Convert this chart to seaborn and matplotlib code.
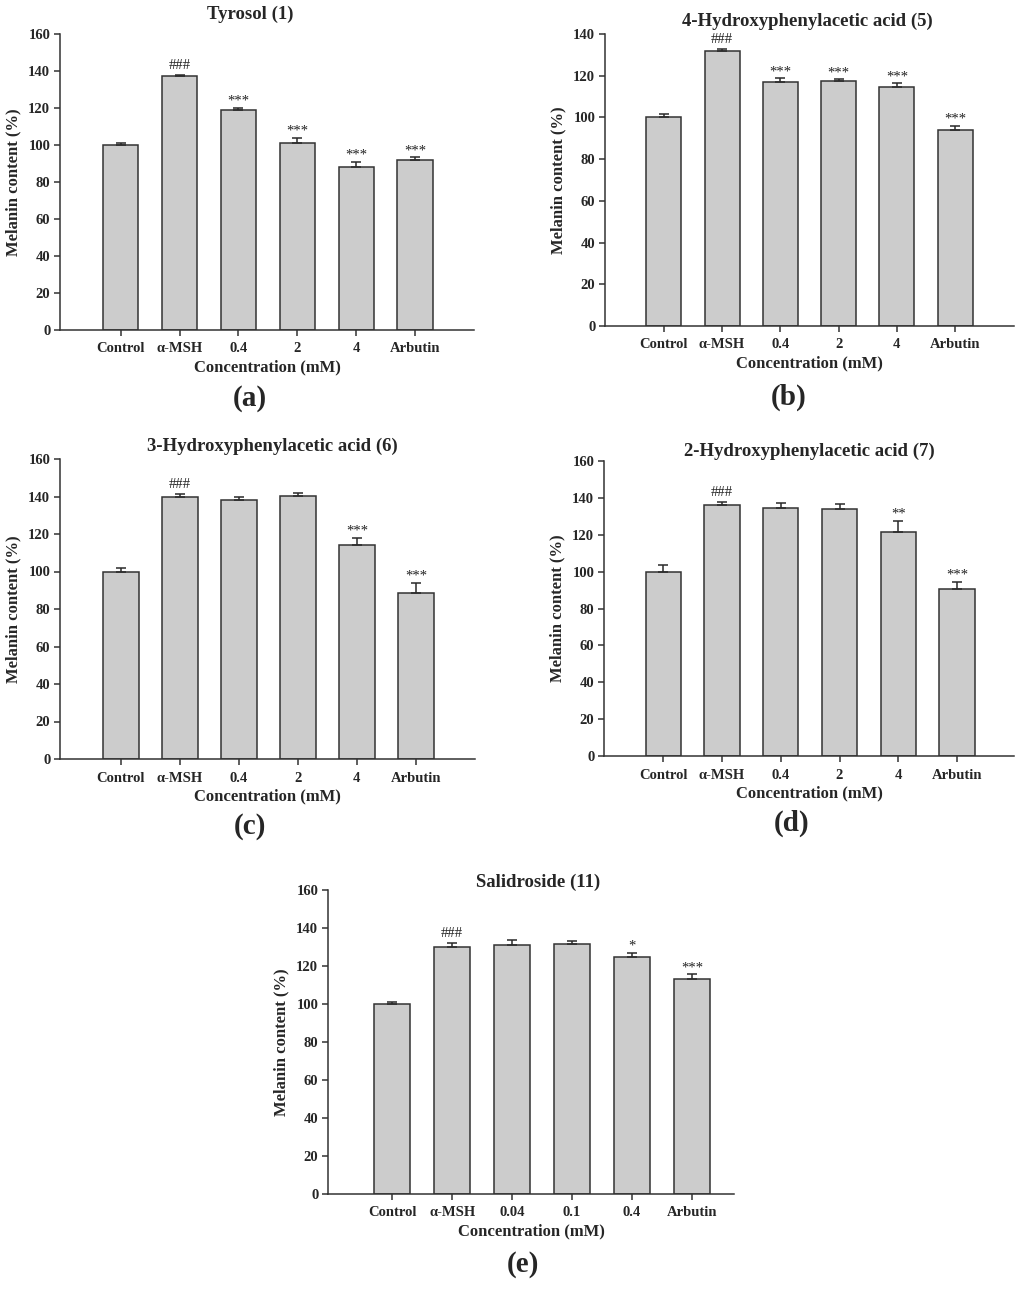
import matplotlib
matplotlib.use('Agg')
import matplotlib.pyplot as plt
import seaborn as sns
import numpy as np
import pandas as pd

sns.set_style('ticks')
plt.rcParams['font.family'] = ['Liberation Serif', 'DejaVu Serif']
plt.rcParams['font.weight'] = 'bold'

# -------------------------------------------------------------------
# Data (mean and upper error bar)
# -------------------------------------------------------------------
groups_main = ['Control', 'α-MSH', '0.4', '2', '4', 'Arbutin']
groups_sal = ['Control', 'α-MSH', '0.04', '0.1', '0.4', 'Arbutin']

titles = ['Tyrosol (1)', '4-Hydroxyphenylacetic acid (5)', '3-Hydroxyphenylacetic acid (6)',
          '2-Hydroxyphenylacetic acid (7)', 'Salidroside (11)']
panel_letters = ['(a)', '(b)', '(c)', '(d)', '(e)']

tyrosol_mean = [100.0, 137.1, 118.7, 100.9, 88.1, 91.9]
tyrosol_err = [1.3, 0.9, 1.5, 3.1, 2.9, 1.4]
tyrosol_sig = ['', '###', '***', '***', '***', '***']

hpa4_mean = [100.2, 132.0, 116.8, 117.4, 114.7, 93.8]
hpa4_err = [1.6, 0.8, 1.9, 1.0, 1.6, 2.2]
hpa4_sig = ['', '###', '***', '***', '***', '***']

hpa3_mean = [99.9, 139.6, 138.1, 140.4, 114.3, 88.7]
hpa3_err = [1.8, 1.6, 1.5, 1.6, 3.6, 5.3]
hpa3_sig = ['', '###', '', '', '***', '***']

hpa2_mean = [99.8, 136.2, 134.4, 134.0, 121.5, 90.6]
hpa2_err = [4.0, 1.8, 2.8, 2.7, 6.2, 3.8]
hpa2_sig = ['', '###', '', '', '**', '***']

salid_mean = [99.8, 130.0, 131.1, 131.6, 124.8, 113.2]
salid_err = [1.2, 2.1, 2.6, 1.4, 2.2, 2.4]
salid_sig = ['', '###', '', '', '*', '***']

panels = [
    (groups_main, tyrosol_mean, tyrosol_err, tyrosol_sig),
    (groups_main, hpa4_mean, hpa4_err, hpa4_sig),
    (groups_main, hpa3_mean, hpa3_err, hpa3_sig),
    (groups_main, hpa2_mean, hpa2_err, hpa2_sig),
    (groups_sal, salid_mean, salid_err, salid_sig),
]

# layout in pixels: left, right, top, bottom of each axes
W, H = 1024, 1289
boxes = [(60, 474, 34, 330), (605, 1014, 34, 326), (60, 475, 459, 759),
         (604, 1014, 461, 756), (328, 734, 890, 1194)]
xlims = [(-1.03, 6.0), (-1.01, 6.01), (-1.03, 6.0), (-1.01, 5.97), (-1.07, 5.7)]
ymax = [160, 140, 160, 160, 160]
title_pos = [(250, 14), (807, 21), (272, 446), (809, 451), (538, 882)]
letter_pos = [(250, 398), (789, 397), (250, 827), (792, 823), (523, 1265)]

fig = plt.figure(figsize=(W / 100, H / 100), dpi=100)

for k, (cats, mean, err, sig) in enumerate(panels):
    l, r, t, b = boxes[k]
    ax = fig.add_axes([l / W, 1 - b / H, (r - l) / W, (b - t) / H])
    df = pd.DataFrame({'group': cats, 'melanin': mean})
    sns.barplot(data=df, x='group', y='melanin', order=cats, color='#cccccc',
                edgecolor='#333333', linewidth=1.1, width=0.6, errorbar=None,
                saturation=1, ax=ax)
    xs = np.arange(len(cats))
    ax.errorbar(xs, mean, yerr=[np.zeros(len(err)), err], fmt='none',
                ecolor='#2a2a2a', elinewidth=1.1, capsize=3.5, capthick=1.1)
    for i, s in enumerate(sig):
        if s:
            ax.annotate(s, (xs[i], mean[i] + err[i]), xytext=(0, 2 if s.startswith('#') else 0),
                        textcoords='offset points', ha='center', va='bottom',
                        fontsize=10.5, fontweight='normal', color='#222222')
    ax.set_xlim(*xlims[k])
    ax.set_ylim(0, ymax[k])
    ax.set_yticks(np.arange(0, ymax[k] + 1, 20))
    sns.despine(ax=ax)
    for side in ['left', 'bottom']:
        ax.spines[side].set_color('#333333')
        ax.spines[side].set_linewidth(1.1)
    ax.tick_params(axis='both', direction='out', length=4, width=1.1, color='#333333',
                   labelsize=10.5, pad=3)
    ax.tick_params(axis='x', pad=5)
    for lab in ax.get_xticklabels() + ax.get_yticklabels():
        lab.set_fontweight('bold')
    ax.set_xlabel('Concentration (mM)', fontsize=12, fontweight='bold', labelpad=3)
    ax.set_ylabel('Melanin content (%)', fontsize=12, fontweight='bold', labelpad=5)
    tx, ty = title_pos[k]
    fig.text(tx / W, 1 - ty / H, titles[k], ha='center', va='center', fontsize=13.5, fontweight='bold')
    px, py = letter_pos[k]
    fig.text(px / W, 1 - py / H, panel_letters[k], ha='center', va='center', fontsize=21, fontweight='bold')

fig.savefig('out.png', dpi=100, facecolor='white')
